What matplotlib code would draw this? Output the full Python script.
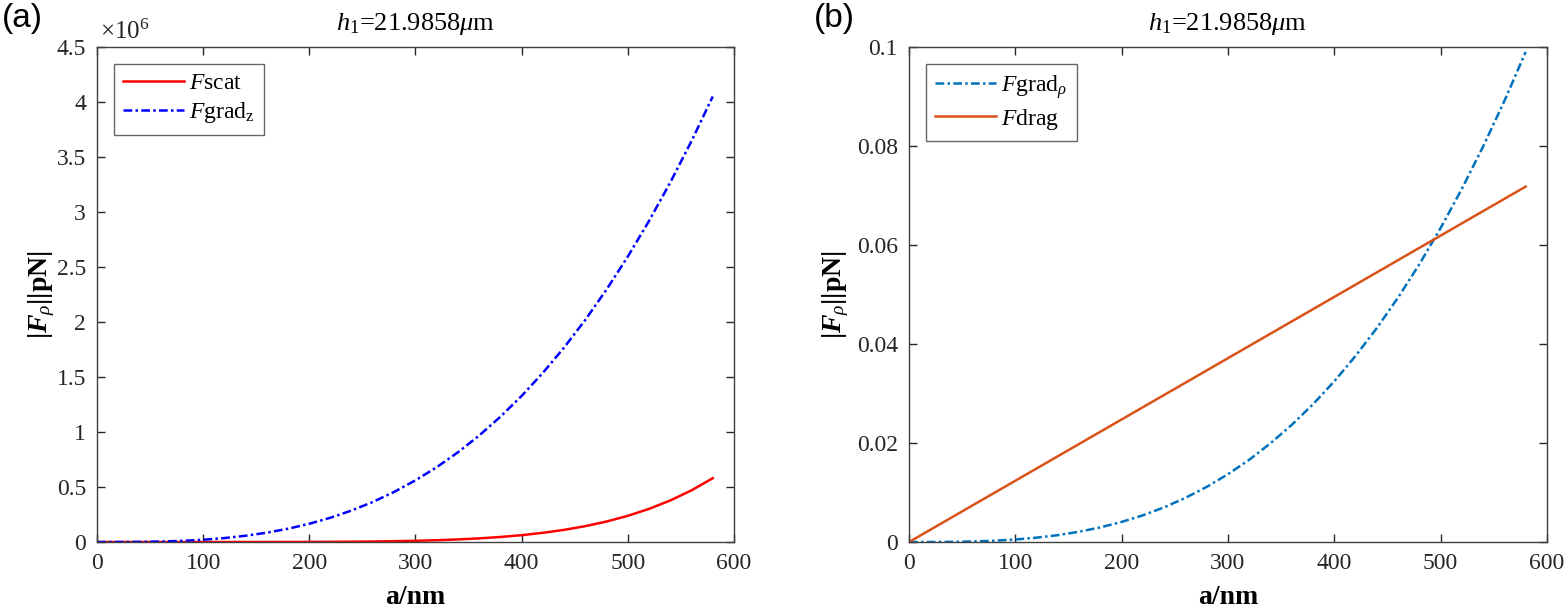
import numpy as np
import matplotlib
matplotlib.use('Agg')
import matplotlib.pyplot as plt
from matplotlib.ticker import FuncFormatter

plt.rcParams['font.family'] = ['Liberation Serif', 'DejaVu Serif']
plt.rcParams['mathtext.fontset'] = 'custom'
plt.rcParams['mathtext.rm'] = 'Liberation Serif'
plt.rcParams['mathtext.it'] = 'Liberation Serif:italic'
plt.rcParams['mathtext.bf'] = 'Liberation Serif:bold'
plt.rcParams['mathtext.bfit'] = 'Liberation Serif:bold:italic'

# particle radius a (nm)
a_nm = [0, 20, 40, 60, 80, 100, 120, 140, 160, 180, 200, 220, 240, 260, 280,
        300, 320, 340, 360, 380, 400, 420, 440, 460, 480, 500, 520, 540, 560, 580]

# panel (a), values in units of 1e6 pN
f_scat = [0, 0, 0, 0, 0.000004, 0.000015, 0.000045, 0.000115, 0.00026, 0.00052,
          0.00097, 0.0017, 0.0029, 0.0047, 0.0073, 0.0111, 0.0164, 0.0236, 0.0332,
          0.0459, 0.0624, 0.0836, 0.1106, 0.1444, 0.1863, 0.2381, 0.3013, 0.3778,
          0.4699, 0.58]
f_grad_z = [0, 0.00017, 0.0013, 0.0045, 0.0106, 0.0208, 0.0359, 0.057, 0.085,
            0.121, 0.166, 0.221, 0.287, 0.365, 0.456, 0.561, 0.680, 0.816, 0.968,
            1.139, 1.328, 1.538, 1.768, 2.020, 2.296, 2.595, 2.919, 3.269, 3.645, 4.05]

# panel (b), pN
f_grad_rho = [0, 0.000004, 0.000033, 0.00011, 0.00026, 0.00051, 0.00088, 0.00139,
              0.00208, 0.00296, 0.00406, 0.0054, 0.00701, 0.00892, 0.01114, 0.0137,
              0.01662, 0.01995, 0.02367, 0.02784, 0.03247, 0.03759, 0.04322, 0.04939,
              0.05612, 0.06343, 0.07135, 0.0799, 0.0891, 0.099]
drag_a = [0, 580]
f_drag = [0, 0.0718]

title_txt = r'$h_1$=21.9858$\mu$m'
ylab = r'|$\mathbfit{F}_{\rho}$||pN|'

fig = plt.figure(figsize=(15.67, 6.11), dpi=100)
ax1 = fig.add_axes([0.0619, 0.1129, 0.4065, 0.8102])
ax2 = fig.add_axes([0.5801, 0.1129, 0.4071, 0.8102])

dashdot = (0, (3.5, 1.3, 1, 1.3))

ax1.plot(a_nm, np.array(f_scat) * 1e6, color='#ff0000', lw=1.8, label=r'$F$scat')
ax1.plot(a_nm, np.array(f_grad_z) * 1e6, color='#0000ff', lw=1.8, ls=dashdot,
         label=r'$F$grad$_{\rm z}$')
ax1.set_ylim(0, 4.5e6)
ax1.set_yticks(np.arange(0, 4.51e6, 0.5e6))
ax1.yaxis.set_major_formatter(FuncFormatter(lambda v, _: f'{v / 1e6:g}'))
ax1.text(0.004, 1.006, r'$\times$10$^6$', transform=ax1.transAxes, fontsize=18,
         ha='left', va='bottom', color='#262626')

ax2.plot(a_nm, f_grad_rho, color='#0072bd', lw=1.8, ls=dashdot,
         label=r'$F$grad$_{\rho}$')
ax2.plot(drag_a, f_drag, color='#d95319', lw=1.8, label=r'$F$drag')
ax2.set_ylim(0, 0.1)
ax2.set_yticks(np.arange(0, 0.101, 0.02))
ax2.yaxis.set_major_formatter(FuncFormatter(lambda v, _: f'{v:g}'))

for ax in (ax1, ax2):
    ax.set_xlim(0, 600)
    ax.set_xticks(range(0, 601, 100))
    ax.tick_params(direction='in', top=True, right=True, length=6, width=1,
                   labelsize=17, colors='#262626', pad=8)
    plt.setp(ax.get_xticklabels() + ax.get_yticklabels(), fontfamily='Liberation Serif')
    for sp in ax.spines.values():
        sp.set_color('#404040')
        sp.set_linewidth(1)
    ax.set_xlabel('a/nm', fontsize=20, fontweight='bold', labelpad=8)
    ax.set_title(title_txt, fontsize=19, pad=12)
    leg = ax.legend(loc='upper left', fontsize=17, handlelength=2.6,
                    borderpad=0.4, labelspacing=0.25, handletextpad=0.2,
                    fancybox=False, borderaxespad=0.7)
    leg.get_frame().set_edgecolor('#404040')
    leg.get_frame().set_linewidth(1)

ax1.set_ylabel(ylab, fontsize=20, fontweight='bold', labelpad=0)
ax2.set_ylabel(ylab, fontsize=20, fontweight='bold', labelpad=4)

fig.text(0.001, 0.995, '(a)', fontsize=24, family='Liberation Sans', va='top', ha='left')
fig.text(0.5195, 0.995, '(b)', fontsize=24, family='Liberation Sans', va='top', ha='left')

fig.savefig('out.png', dpi=100)
